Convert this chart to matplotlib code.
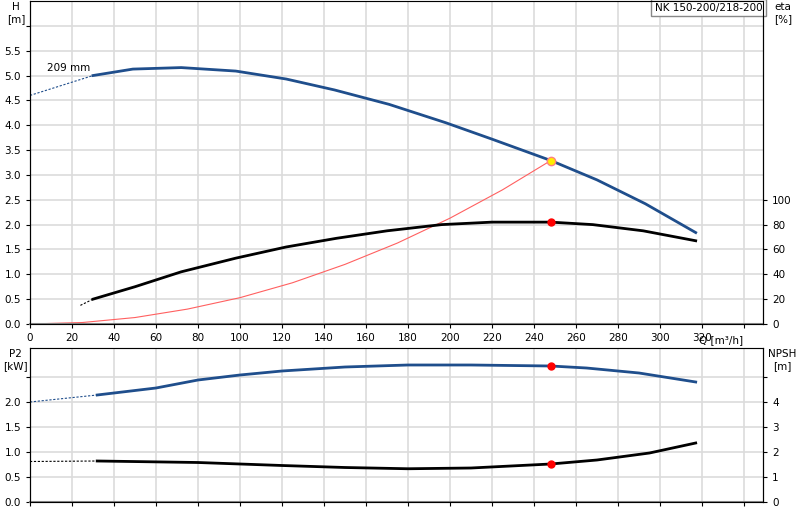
import matplotlib
matplotlib.use("Agg")
import matplotlib.pyplot as plt

q_h = [30, 49, 72, 98, 122, 145, 171, 198, 220, 248, 270, 293, 317]
h = [5.0, 5.13, 5.16, 5.09, 4.93, 4.71, 4.42, 4.05, 3.72, 3.29, 2.9, 2.42, 1.84]
q_h_ext = [0, 30]; h_ext = [4.6, 5.0]

q_eta = [30, 50, 72, 98, 122, 146, 170, 196, 220, 248, 268, 292, 317]
eta = [20, 30, 42, 53, 62, 69, 75, 80, 82, 82, 80, 75, 67]
q_eta_ext = [24, 30]; eta_ext = [15, 20]

q_sys = [0, 25, 50, 75, 100, 125, 150, 175, 200, 225, 248]
h_sys = [0, 0.03, 0.13, 0.3, 0.53, 0.83, 1.2, 1.63, 2.13, 2.7, 3.29]

q_p2 = [32, 60, 80, 100, 120, 150, 180, 210, 248, 265, 290, 317]
p2 = [2.14, 2.28, 2.44, 2.54, 2.62, 2.7, 2.74, 2.74, 2.72, 2.68, 2.58, 2.4]
q_p2_ext = [0, 32]; p2_ext = [2.0, 2.14]

q_npsh = [32, 80, 120, 150, 180, 210, 248, 270, 295, 317]
npsh = [1.64, 1.58, 1.46, 1.38, 1.33, 1.36, 1.52, 1.68, 1.96, 2.36]
q_npsh_ext = [0, 32]; npsh_ext = [1.62, 1.64]

duty_q = 248; duty_h = 3.29; duty_eta = 82; duty_p2 = 2.72; duty_npsh = 1.52

blue = "#1f4e8c"
grid_c = "#dcdcdc"
fs = 7.5
W, H = 800, 520
fig = plt.figure(figsize=(8, 5.2), dpi=100)
ax1 = fig.add_axes([30/W, 1-324/H, 733/W, 323/H])
ax2 = fig.add_axes([30/W, 1-502/H, 733/W, 154/H])
xmax = 733/2.1

for ax in (ax1, ax2):
    ax.set_xlim(0, xmax)
    ax.set_xticks(range(0, 341, 20))
    ax.grid(True, color=grid_c, lw=1.2)
    ax.set_axisbelow(True)
    ax.spines["top"].set_color("#aaaaaa")
    ax.spines["bottom"].set_color("#888888"); ax.spines["bottom"].set_linewidth(1.5)
    ax.tick_params(labelsize=fs, length=3)

# top
ax1.set_ylim(0, 6.5)
ax1.set_yticks([0, 0.5, 1, 1.5, 2, 2.5, 3, 3.5, 4, 4.5, 5, 5.5, 6])
ax1.set_yticklabels(["0.0", "0.5", "1.0", "1.5", "2.0", "2.5", "3.0", "3.5", "4.0", "4.5", "5.0", "5.5", ""])
ax1.set_xticklabels([str(v) for v in range(0, 321, 20)] + [""])
ax1.plot(q_h, h, color=blue, lw=2)
ax1.plot(q_h_ext, h_ext, color=blue, lw=0.8, ls=(0, (2, 1.5)))
ax1.plot(q_sys, h_sys, color="#ff6060", lw=0.8)
ax1.text(8, 5.1, "209 mm", fontsize=fs)
ax1.text(0.999, 0.995, "NK 150-200/218-200", transform=ax1.transAxes, ha="right", va="top",
         fontsize=fs, bbox=dict(facecolor="white", edgecolor="#888888", boxstyle="square,pad=0.35"))
fig.text(16/W, 1-2/H, "H\n[m]", ha="center", va="top", fontsize=fs, linespacing=1.3)
ax1.text(1.0 - 0.087, -0.035, "Q [m³/h]", transform=ax1.transAxes, fontsize=fs, va="top")
a1r = ax1.twinx()
a1r.set_ylim(0, 6.5*40)
a1r.set_yticks([0, 20, 40, 60, 80, 100])
a1r.tick_params(labelsize=fs, length=3)
a1r.plot(q_eta, eta, color="black", lw=2)
a1r.plot(q_eta_ext, eta_ext, color="black", lw=0.8, ls=(0, (2, 1.5)))
a1r.plot([duty_q], [duty_eta], "o", color="red", ms=5)
ax1.plot([duty_q], [duty_h], "o", mfc="#ffee00", mec="#ff8080", ms=6, zorder=5)
fig.text(783/W, 1-2/H, "eta\n[%]", ha="center", va="top", fontsize=fs, linespacing=1.3)

# bottom
ax2.set_ylim(0, 154/50)
ax2.set_yticks([0, 0.5, 1, 1.5, 2, 2.5])
ax2.set_yticklabels(["0.0", "0.5", "1.0", "1.5", "2.0", ""])
ax2.set_xticklabels([])
ax2.plot(q_p2, p2, color=blue, lw=2)
ax2.plot(q_p2_ext, p2_ext, color=blue, lw=0.8, ls=(0, (2, 1.5)))
ax2.plot([duty_q], [duty_p2], "o", color="red", ms=5, zorder=5)
fig.text(15/W, 1-349/H, "P2\n[kW]", ha="center", va="top", fontsize=fs, linespacing=1.3)
a2r = ax2.twinx()
a2r.set_ylim(0, 154/25)
a2r.set_yticks([0, 1, 2, 3, 4, 5])
a2r.set_yticklabels(["0", "1", "2", "3", "4", ""])
a2r.tick_params(labelsize=fs, length=3)
a2r.plot(q_npsh, npsh, color="black", lw=2)
a2r.plot(q_npsh_ext, npsh_ext, color="black", lw=0.8, ls=(0, (2, 1.5)))
a2r.plot([duty_q], [duty_npsh], "o", color="red", ms=5, zorder=5)
fig.text(782/W, 1-349/H, "NPSH\n[m]", ha="center", va="top", fontsize=fs, linespacing=1.3)

fig.savefig("out.png", dpi=100)
